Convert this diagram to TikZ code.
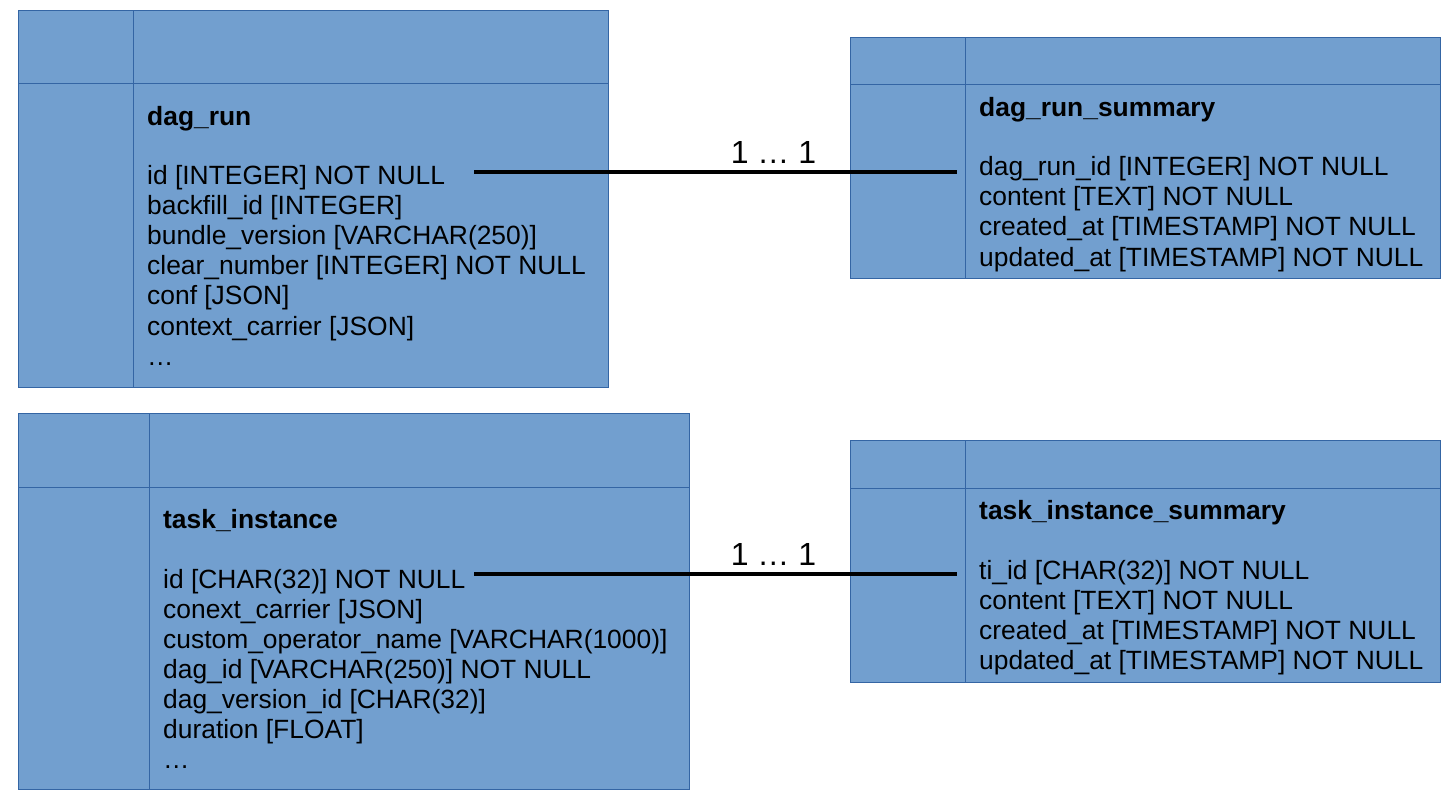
\documentclass[tikz,border=0pt]{standalone}
\usepackage{fontspec}
\setmainfont{Liberation Sans}
\usetikzlibrary{positioning}

\definecolor{tblfill}{HTML}{729FCF}
\definecolor{tbledge}{HTML}{3465A4}

\tikzset{
  tbl/.style={draw=tbledge, line width=1pt, fill=tblfill},
  tblrule/.style={draw=tbledge, line width=1pt},
  fieldtext/.style={anchor=base west, inner sep=0pt, font=\fontsize{26.4}{30}\selectfont},
  titletext/.style={fieldtext, font=\fontsize{26.4}{30}\selectfont\bfseries},
  link/.style={line width=4pt},
  multlabel/.style={above, inner sep=0pt, yshift=7pt, font=\fontsize{32}{36}\selectfont}
}

\begin{document}
\begin{tikzpicture}[x=1pt, y=-1pt]
\useasboundingbox (0,0) rectangle (1449,805);

%dag_run table
\draw[tbl] (18,11) rectangle (608,387);
\draw[tblrule] (133,11) -- (133,387);
\draw[tblrule] (18,84) -- (608,84);
\node[titletext] (drtitle) at (147,126) {dag\_run};
\foreach \f [count=\i] in {id [INTEGER] NOT NULL, backfill\_id [INTEGER], bundle\_version [VARCHAR(250)], clear\_number [INTEGER] NOT NULL, conf [JSON], context\_carrier [JSON], {\dots}}
  \node[fieldtext] (dr\i) at (147,155+30*\i) {\f};

%dag_run_summary table
\draw[tbl] (850,38) rectangle (1440,279);
\draw[tblrule] (965,38) -- (965,279);
\draw[tblrule] (850,85) -- (1440,85);
\node[titletext] (drstitle) at (979,117) {dag\_run\_summary};
\foreach \f [count=\i] in {dag\_run\_id [INTEGER] NOT NULL, content [TEXT] NOT NULL, created\_at [TIMESTAMP] NOT NULL, updated\_at [TIMESTAMP] NOT NULL}
  \node[fieldtext] (drs\i) at (979,146+30*\i) {\f};

%task_instance table
\draw[tbl] (18,413) rectangle (689,789);
\draw[tblrule] (149,413) -- (149,789);
\draw[tblrule] (18,487) -- (689,487);
\node[titletext] (tititle) at (163,528) {task\_instance};
\foreach \f [count=\i] in {id [CHAR(32)] NOT NULL, conext\_carrier [JSON], custom\_operator\_name [VARCHAR(1000)], dag\_id [VARCHAR(250)] NOT NULL, dag\_version\_id [CHAR(32)], duration [FLOAT], {\dots}}
  \node[fieldtext] (ti\i) at (163,558+30*\i) {\f};

%task_instance_summary table
\draw[tbl] (850,440) rectangle (1440,682);
\draw[tblrule] (965,440) -- (965,682);
\draw[tblrule] (850,488) -- (1440,488);
\node[titletext] (tistitle) at (979,519) {task\_instance\_summary};
\foreach \f [count=\i] in {ti\_id [CHAR(32)] NOT NULL, content [TEXT] NOT NULL, created\_at [TIMESTAMP] NOT NULL, updated\_at [TIMESTAMP] NOT NULL}
  \node[fieldtext] (tis\i) at (979,549+30*\i) {\f};

% 1 ... 1 links
\coordinate (drid) at (474,172.5);
\coordinate (drsid) at (957,172.5);
\coordinate (tiid) at (474,574);
\coordinate (tisid) at (957,574);
\draw[link] (drid) -- (drsid) node[multlabel, pos=.62] (drlabel) {1 \dots{} 1};
\draw[link] (tiid) -- (tisid) node[multlabel, pos=.62] (tilabel) {1 \dots{} 1};

\end{tikzpicture}
\end{document}
